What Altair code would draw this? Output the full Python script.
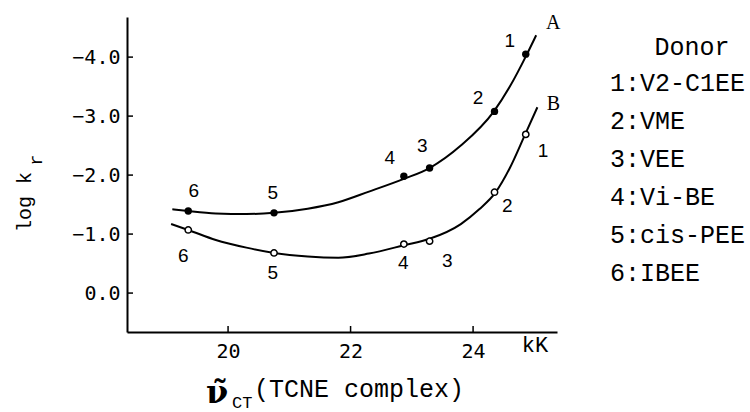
import altair as alt
import pandas as pd

# ---- data ----
donor_no = ["1", "2", "3", "4", "5", "6"]
donor_names = ["V2-C1EE", "VME", "VEE", "Vi-BE", "cis-PEE", "IBEE"]
nu_ct = [24.86, 24.35, 23.29, 22.87, 20.75, 19.35]          # kK
log_kr_a = [-4.05, -3.08, -2.12, -1.98, -1.36, -1.39]        # series A (filled)
log_kr_b = [-2.69, -1.71, -0.88, -0.83, -0.68, -1.07]        # series B (open)

# smooth curves drawn through the points
curve_a_x = [19.09, 19.35, 19.8, 20.3, 20.75, 21.3, 21.8, 22.3, 22.88, 23.29, 23.8, 24.34, 24.6, 24.88, 25.03]
curve_a_y = [-1.42, -1.39, -1.35, -1.34, -1.36, -1.43, -1.54, -1.72, -1.94, -2.12, -2.5, -3.08, -3.5, -4.05, -4.37]
curve_b_x = [19.07, 19.35, 19.8, 20.3, 20.75, 21.3, 21.8, 22.3, 22.87, 23.29, 23.8, 24.1, 24.37, 24.6, 24.85, 25.05]
curve_b_y = [-1.17, -1.07, -0.9, -0.77, -0.68, -0.62, -0.6, -0.67, -0.81, -0.92, -1.17, -1.42, -1.71, -2.12, -2.69, -3.15]

# number-label anchor positions (data units)
lab_a_x = [24.60, 24.08, 23.17, 22.64, 20.73, 19.44]
lab_a_y = [-4.27, -3.31, -2.49, -2.29, -1.69, -1.73]
lab_b_x = [25.14, 24.56, 23.58, 22.86, 20.73, 19.27]
lab_b_y = [-2.41, -1.47, -0.54, -0.51, -0.34, -0.63]
series_names = ["A", "B"]
series_lab_x = [25.31, 25.31]
series_lab_y = [-4.58, -3.20]

x_ticks = [20, 22, 24]
y_ticks = [-4.0, -3.0, -2.0, -1.0, 0.0]
x_domain = [18.35, 25.37]
y_domain = [-4.68, 0.66]

W, H = 430, 315
MONO = "Liberation Mono"

xs = alt.Scale(domain=x_domain, nice=False, zero=False)
ys = alt.Scale(domain=y_domain, nice=False, zero=False, reverse=True)

x_axis = alt.Axis(values=x_ticks, format="d", grid=False, ticks=False, tickSize=0,
                  domainColor="black", domainWidth=2, labelFont="DejaVu Sans Mono",
                  labelFontSize=20, labelColor="black", labelPadding=9, title=None)
y_axis = alt.Axis(values=y_ticks, format=".1f", grid=False, ticks=False, tickSize=0,
                  domainColor="black", domainWidth=2, labelFont="DejaVu Sans Mono",
                  labelFontSize=20, labelColor="black", labelPadding=7, title=None)

pts = pd.DataFrame({"no": donor_no, "x": nu_ct, "a": log_kr_a, "b": log_kr_b,
                    "lax": lab_a_x, "lay": lab_a_y, "lbx": lab_b_x, "lby": lab_b_y})
ca = pd.DataFrame({"x": curve_a_x, "y": curve_a_y})
cb = pd.DataFrame({"x": curve_b_x, "y": curve_b_y})

line_a = alt.Chart(ca).mark_line(color="black", strokeWidth=2, interpolate="monotone").encode(
    x=alt.X("x:Q", scale=xs, axis=x_axis), y=alt.Y("y:Q", scale=ys, axis=y_axis))
line_b = alt.Chart(cb).mark_line(color="black", strokeWidth=2, interpolate="monotone").encode(
    x=alt.X("x:Q", scale=xs), y=alt.Y("y:Q", scale=ys))

dots_a = alt.Chart(pts).mark_point(filled=True, color="black", size=55, opacity=1).encode(
    x=alt.X("x:Q", scale=xs), y=alt.Y("a:Q", scale=ys))
dots_b = alt.Chart(pts).mark_point(filled=True, fill="white", stroke="black", strokeWidth=1.5,
                                   size=40, opacity=1).encode(
    x=alt.X("x:Q", scale=xs), y=alt.Y("b:Q", scale=ys))

num_a = alt.Chart(pts).mark_text(font="Liberation Sans", fontSize=19, color="black").encode(
    x=alt.X("lax:Q", scale=xs), y=alt.Y("lay:Q", scale=ys), text="no:N")
num_b = alt.Chart(pts).mark_text(font="Liberation Sans", fontSize=19, color="black").encode(
    x=alt.X("lbx:Q", scale=xs), y=alt.Y("lby:Q", scale=ys), text="no:N")

ser = pd.DataFrame({"s": series_names, "x": series_lab_x, "y": series_lab_y})
ser_lab = alt.Chart(ser).mark_text(font="Liberation Serif", fontSize=20, color="black").encode(
    x=alt.X("x:Q", scale=xs), y=alt.Y("y:Q", scale=ys), text="s:N")

# inward tick marks
ytk = alt.Chart(pd.DataFrame({"v": y_ticks})).mark_rule(color="black", strokeWidth=1.5).encode(
    y=alt.Y("v:Q", scale=ys), x=alt.value(0), x2=alt.value(6))
xtk = alt.Chart(pd.DataFrame({"v": x_ticks})).mark_rule(color="black", strokeWidth=1.5).encode(
    x=alt.X("v:Q", scale=xs), y=alt.value(H), y2=alt.value(H - 6))

# annotation texts
def txt(s, x, y, **kw):
    return alt.Chart(pd.DataFrame({"t": [s]})).mark_text(color="black", **kw).encode(
        x=alt.value(x), y=alt.value(y), text="t:N")

kk = txt("kK", 408, 335, font=MONO, fontSize=22, align="center", baseline="alphabetic")
nu = txt("\u03bd\u0303", 90, 386, font="DejaVu Serif", fontSize=32, fontWeight="bold",
         align="center", baseline="alphabetic")
ct = txt("CT", 105, 391, font=MONO, fontSize=17, align="left", baseline="alphabetic")
tcne = txt("(TCNE complex)", 127, 380, font=MONO, fontSize=25, align="left", baseline="alphabetic")
ylog = txt("log k", -102, 185, font=MONO, fontSize=20, angle=270, align="center", baseline="middle")
ysub = txt("r", -90, 143, font=MONO, fontSize=18, angle=270, align="center", baseline="middle")

donor_title = txt("Donor", 565, 38, font=MONO, fontSize=25, align="center", baseline="alphabetic")
legend_text = "\n".join(f"{n}:{d}" for n, d in zip(donor_no, donor_names))
legend = txt(legend_text, 483, 74, font=MONO, fontSize=25, align="left", baseline="alphabetic",
             lineBreak="\n", lineHeight=38)

chart = alt.layer(
    line_a, line_b, dots_a, dots_b, num_a, num_b, ser_lab, ytk, xtk,
    kk, nu, ct, tcne, ylog, ysub, donor_title, legend
).properties(
    width=W, height=H,
    padding={"left": 127, "top": 17, "right": 193, "bottom": 80},
    autosize=alt.AutoSizeParams(type="none"),
    background="white",
).configure_view(stroke=None)

chart.save("out.html", embed_options={"renderer": "svg", "actions": False})
